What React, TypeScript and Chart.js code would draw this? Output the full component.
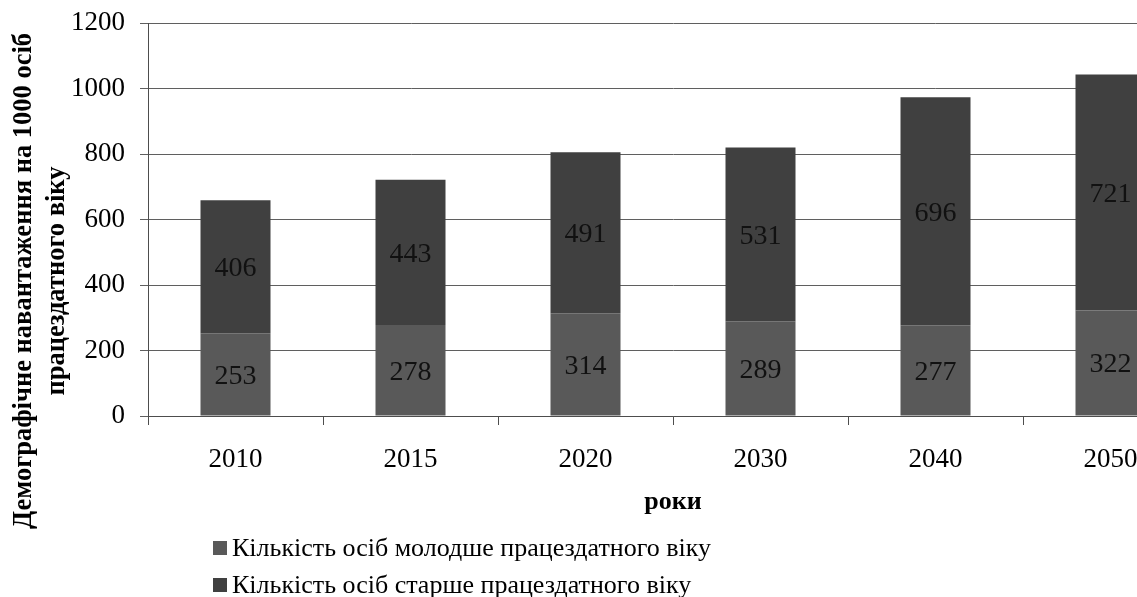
import React, { useEffect, useRef } from "react";
import { Chart, registerables } from "chart.js";

Chart.register(...registerables);

const categories = ["2010", "2015", "2020", "2030", "2040", "2050"];
const youngerValues = [253, 278, 314, 289, 277, 322];
const olderValues = [406, 443, 491, 531, 696, 721];
const seriesNames = [
  "Кількість осіб молодше працездатного віку",
  "Кількість осіб старше працездатного віку",
];
const seriesColors = ["#595959", "#404040"];
const yTitleLines = ["Демографічне навантаження на 1000 осіб", "працездатного віку"];
const xTitle = "роки";

const FONT = '"Liberation Serif", "Times New Roman", serif';

const decorPlugin = {
  id: "decor",
  afterDatasetsDraw(chart: any) {
    const ctx = chart.ctx;
    ctx.save();
    ctx.font = `28px ${FONT}`;
    ctx.fillStyle = "#111";
    ctx.textAlign = "center";
    ctx.textBaseline = "middle";
    chart.data.datasets.forEach((ds: any, di: number) => {
      const meta = chart.getDatasetMeta(di);
      meta.data.forEach((el: any, i: number) => {
        const p = el.getProps(["x", "y", "base"], true);
        ctx.fillText(String(ds.data[i]), p.x, (p.y + p.base) / 2 + 2);
      });
    });
    ctx.restore();
  },
  afterDraw(chart: any) {
    const ctx = chart.ctx;
    const area = chart.chartArea;
    ctx.save();
    ctx.font = `bold 26.5px ${FONT}`;
    ctx.fillStyle = "#000";
    ctx.textAlign = "center";
    ctx.textBaseline = "middle";
    const yc = 281;
    const xs = [24, 57];
    yTitleLines.forEach((line, i) => {
      ctx.save();
      ctx.translate(xs[i], yc);
      ctx.rotate(-Math.PI / 2);
      ctx.fillText(line, 0, 0);
      ctx.restore();
    });
    ctx.font = `bold 26px ${FONT}`;
    ctx.fillText(xTitle, (area.left + area.right) / 2, 502);
    ctx.font = `26px ${FONT}`;
    ctx.textAlign = "left";
    const rows = [548, 585];
    seriesNames.forEach((name, i) => {
      ctx.fillStyle = seriesColors[i];
      ctx.fillRect(213, rows[i] - 7, 14, 14);
      ctx.fillStyle = "#000";
      ctx.fillText(name, 232, rows[i] + 1);
    });
    ctx.restore();
  },
};

export default function App() {
  const ref = useRef<HTMLCanvasElement>(null);
  useEffect(() => {
    if (!ref.current) return;
    const chart = new Chart(ref.current, {
      type: "bar",
      data: {
        labels: categories,
        datasets: [
          {
            label: seriesNames[0],
            data: youngerValues,
            backgroundColor: seriesColors[0],
            categoryPercentage: 1,
            barPercentage: 0.4,
          },
          {
            label: seriesNames[1],
            data: olderValues,
            backgroundColor: seriesColors[1],
            categoryPercentage: 1,
            barPercentage: 0.4,
          },
        ],
      },
      options: {
        responsive: false,
        animation: false,
        devicePixelRatio: 1,
        layout: { padding: { left: 0, right: 12, top: 23, bottom: 0 } },
        plugins: { legend: { display: false }, tooltip: { enabled: false } },
        scales: {
          x: {
            stacked: true,
            grid: {
              display: true,
              drawOnChartArea: false,
              drawTicks: true,
              tickLength: 9,
              color: "#4d4d4d",
              offset: true,
            },
            border: { display: true, color: "#4d4d4d", width: 1 },
            ticks: { font: { family: FONT, size: 27 }, color: "#000", padding: 19, maxRotation: 0 },
            afterFit: (s: any) => {
              s.height = 181;
              s.paddingLeft = 0;
              s.paddingRight = 0;
            },
          },
          y: {
            stacked: true,
            min: 0,
            max: 1200,
            ticks: {
              stepSize: 200,
              font: { family: FONT, size: 27 },
              color: "#000",
              padding: 15,
              callback: (v: any) => String(v),
            },
            grid: { color: "#5f5f5f", tickLength: 8 },
            border: { display: true, color: "#4d4d4d", width: 1 },
            afterFit: (s: any) => {
              s.width = 148;
              s.paddingTop = 0;
              s.paddingBottom = 0;
            },
          },
        },
      },
      plugins: [decorPlugin],
    });
    return () => chart.destroy();
  }, []);
  return (
    <div
      style={{
        position: "fixed",
        left: 0,
        top: 0,
        width: 1137,
        height: 597,
        overflow: "hidden",
        background: "#fff",
      }}
    >
      <canvas ref={ref} width={1210} height={597} style={{ display: "block" }} />
    </div>
  );
}
